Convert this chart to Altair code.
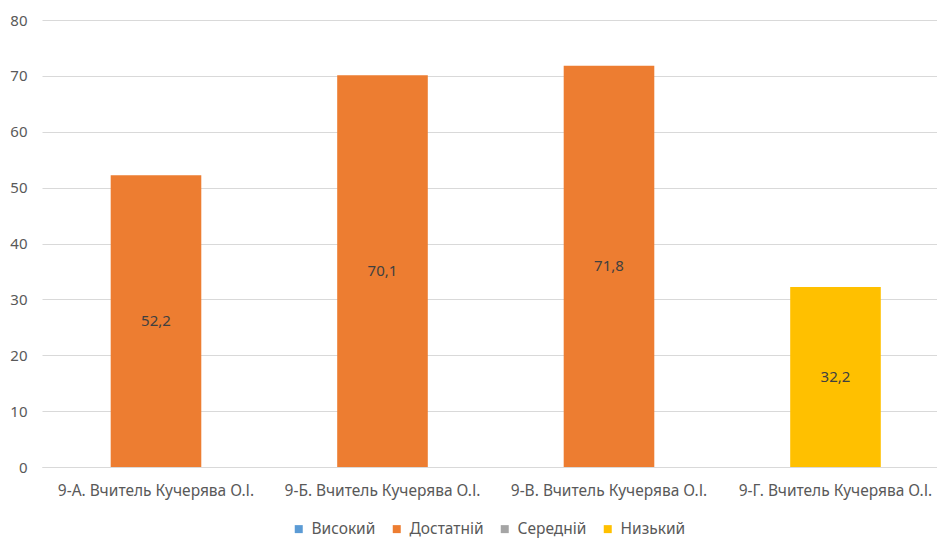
import altair as alt
import pandas as pd

classes = ["9-А. Вчитель Кучерява О.І.", "9-Б. Вчитель Кучерява О.І.",
           "9-В. Вчитель Кучерява О.І.", "9-Г. Вчитель Кучерява О.І."]
values = [52.2, 70.1, 71.8, 32.2]
levels = ["Достатній", "Достатній", "Достатній", "Низький"]
legend_levels = ["Високий", "Достатній", "Середній", "Низький"]
legend_colors = ["#5B9BD5", "#ED7D31", "#A5A5A5", "#FFC000"]
y_ticks = [0, 10, 20, 30, 40, 50, 60, 70, 80]

df = pd.DataFrame({"cls": classes, "value": values, "level": levels})

FONT = "Noto Sans"

x = alt.X("cls:N", sort=classes, title=None,
          scale=alt.Scale(paddingInner=0.6, paddingOuter=0.2757, align=0.55),
          axis=alt.Axis(labelAngle=0, labelFont=FONT, labelFontSize=15.5,
                        labelColor="#595959", ticks=False, domainColor="#d9d9d9",
                        labelPadding=16, labelLimit=300))

base = alt.Chart(df).transform_calculate(
    label="replace(format(datum.value, '.1f'), '.', ',')",
    mid="datum.value / 2"
)

bars = base.mark_bar().encode(
    x=x,
    y=alt.Y("value:Q", title=None,
            scale=alt.Scale(domain=[0, 80], nice=False),
            axis=alt.Axis(values=y_ticks, labelFont=FONT, labelFontSize=15,
                          labelColor="#595959", ticks=False, domain=False,
                          gridColor="#d9d9d9", labelPadding=15)),
    color=alt.Color("level:N", title=None,
                    scale=alt.Scale(domain=legend_levels, range=legend_colors),
                    legend=alt.Legend(orient="none", direction="horizontal",
                                      legendX=249, legendY=501,
                                      symbolType="square", symbolSize=64,
                                      symbolStrokeWidth=0, labelFont=FONT,
                                      labelFontSize=15.5, labelColor="#595959",
                                      labelOffset=5, columnPadding=13,
                                      padding=0))
)

text = base.mark_text(font=FONT, fontSize=15, color="#404040", baseline="middle").encode(
    x=alt.X("cls:N", sort=classes),
    y=alt.Y("mid:Q"),
    text="label:N"
)

chart = (bars + text).properties(
    width=895, height=447,
    autosize=alt.AutoSizeParams(type="none"),
    padding={"left": 34, "top": 12, "right": 0, "bottom": 71}
).configure_view(stroke=None)

chart.save("out.html", embed_options={"renderer": "svg", "actions": False})
